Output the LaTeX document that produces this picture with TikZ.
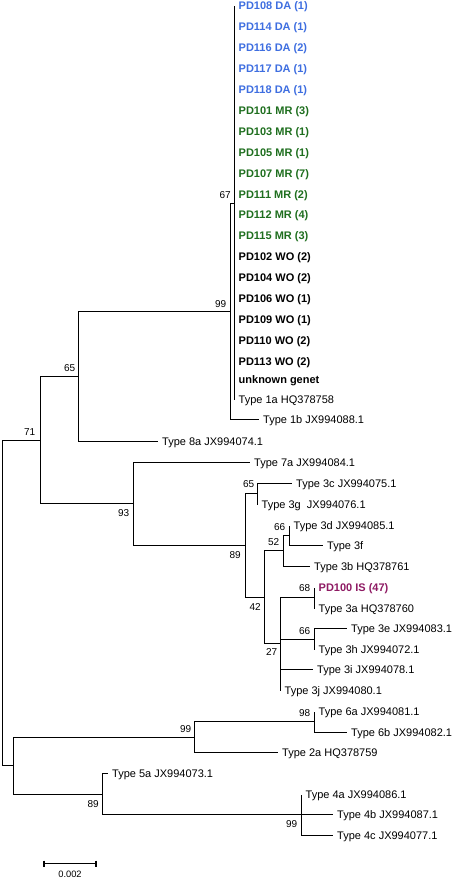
\documentclass[tikz,border=0pt]{standalone}
\usepackage{fontspec}
\setmainfont{Liberation Sans}
\definecolor{dablue}{HTML}{3E6EE0}
\definecolor{mrgreen}{HTML}{1E6E1E}
\definecolor{ispurple}{HTML}{8E1A63}
\begin{document}
\begin{tikzpicture}[x=1pt,y=-1pt,
  br/.style={line width=1.6pt},
  leaf/.style={anchor=west, inner xsep=4pt, inner ysep=0pt, text height=8.5pt, text depth=0.6pt, font=\fontsize{11}{13}\selectfont},
  pdl/.style={leaf, font=\fontsize{11}{13}\selectfont\bfseries},
  bs/.style={anchor=east, inner sep=0pt, text height=7.2pt, text depth=0pt, font=\fontsize{10}{12}\selectfont},
  sclab/.style={inner sep=0pt, font=\fontsize{9.3}{11}\selectfont}
]
\useasboundingbox (0,0) rectangle (454,879);

% internal nodes
\coordinate (root) at (2.5,602.5);
\coordinate (n71) at (40.5,440.5);
\coordinate (n65a) at (78.5,376.5);
\coordinate (n99a) at (230.5,311.5);
\coordinate (n67) at (234.5,203.5);
\coordinate (n93) at (133.5,503.5);
\coordinate (n89) at (245.5,545.5);
\coordinate (n65b) at (257.5,493.5);
\coordinate (n42) at (264.5,597.5);
\coordinate (n52) at (283.5,550.5);
\coordinate (n66a) at (289.5,535.5);
\coordinate (n27) at (280.5,643.5);
\coordinate (n68) at (314.5,597.5);
\coordinate (n66b) at (314.5,639.5);
\coordinate (nX) at (13.5,765.5);
\coordinate (n99b) at (194.5,737.5);
\coordinate (n98) at (314.5,721.5);
\coordinate (n89b) at (102.5,794.5);
\coordinate (n99c) at (301.5,814.5);

% leaf tips
\coordinate (t0) at (234.5,6);
\coordinate (t1) at (234.5,26.9);
\coordinate (t2) at (234.5,47.8);
\coordinate (t3) at (234.5,68.7);
\coordinate (t4) at (234.5,89.6);
\coordinate (t5) at (234.5,110.5);
\coordinate (t6) at (234.5,131.4);
\coordinate (t7) at (234.5,152.3);
\coordinate (t8) at (234.5,173.2);
\coordinate (t9) at (234.5,194.1);
\coordinate (t10) at (234.5,215);
\coordinate (t11) at (234.5,235.9);
\coordinate (t12) at (234.5,256.8);
\coordinate (t13) at (234.5,277.7);
\coordinate (t14) at (234.5,298.6);
\coordinate (t15) at (234.5,319.5);
\coordinate (t16) at (234.5,340.4);
\coordinate (t17) at (234.5,361.3);
\coordinate (t18) at (234.5,379.5);
\coordinate (t19) at (234.5,400);
\coordinate (t20) at (259,419.5);
\coordinate (t21) at (158,441.5);
\coordinate (t22) at (250,462.5);
\coordinate (t23) at (292,483.5);
\coordinate (t24) at (257.5,504.5);
\coordinate (t25) at (289.5,525.5);
\coordinate (t26) at (323,545.5);
\coordinate (t27) at (310,566.5);
\coordinate (t28) at (314.5,587.5);
\coordinate (t29) at (314.5,608.5);
\coordinate (t30) at (347,628.5);
\coordinate (t31) at (314.5,649.5);
\coordinate (t32) at (313,669.5);
\coordinate (t33) at (280.5,690.5);
\coordinate (t34) at (314.5,711.5);
\coordinate (t35) at (347,732.5);
\coordinate (t36) at (278,752.5);
\coordinate (t37) at (108,773.5);
\coordinate (t38) at (301.5,794.5);
\coordinate (t39) at (333,814.5);
\coordinate (t40) at (333,835.5);

% leaf labels
\node[pdl, text=dablue] (L0) at (t0) {PD108 DA (1)};
\node[pdl, text=dablue] (L1) at (t1) {PD114 DA (1)};
\node[pdl, text=dablue] (L2) at (t2) {PD116 DA (2)};
\node[pdl, text=dablue] (L3) at (t3) {PD117 DA (1)};
\node[pdl, text=dablue] (L4) at (t4) {PD118 DA (1)};
\node[pdl, text=mrgreen] (L5) at (t5) {PD101 MR (3)};
\node[pdl, text=mrgreen] (L6) at (t6) {PD103 MR (1)};
\node[pdl, text=mrgreen] (L7) at (t7) {PD105 MR (1)};
\node[pdl, text=mrgreen] (L8) at (t8) {PD107 MR (7)};
\node[pdl, text=mrgreen] (L9) at (t9) {PD111 MR (2)};
\node[pdl, text=mrgreen] (L10) at (t10) {PD112 MR (4)};
\node[pdl, text=mrgreen] (L11) at (t11) {PD115 MR (3)};
\node[pdl] (L12) at (t12) {PD102 WO (2)};
\node[pdl] (L13) at (t13) {PD104 WO (2)};
\node[pdl] (L14) at (t14) {PD106 WO (1)};
\node[pdl] (L15) at (t15) {PD109 WO (1)};
\node[pdl] (L16) at (t16) {PD110 WO (2)};
\node[pdl] (L17) at (t17) {PD113 WO (2)};
\node[pdl] (L18) at (t18) {unknown genet};
\node[leaf] (L19) at (t19) {Type 1a HQ378758};
\node[leaf] (L20) at (t20) {Type 1b JX994088.1};
\node[leaf] (L21) at (t21) {Type 8a JX994074.1};
\node[leaf] (L22) at (t22) {Type 7a JX994084.1};
\node[leaf] (L23) at (t23) {Type 3c JX994075.1};
\node[leaf] (L24) at (t24) {Type 3g\ \ JX994076.1};
\node[leaf] (L25) at (t25) {Type 3d JX994085.1};
\node[leaf] (L26) at (t26) {Type 3f};
\node[leaf] (L27) at (t27) {Type 3b HQ378761};
\node[pdl, text=ispurple] (L28) at (t28) {PD100 IS (47)};
\node[leaf] (L29) at (t29) {Type 3a HQ378760};
\node[leaf] (L30) at (t30) {Type 3e JX994083.1};
\node[leaf] (L31) at (t31) {Type 3h JX994072.1};
\node[leaf] (L32) at (t32) {Type 3i JX994078.1};
\node[leaf] (L33) at (t33) {Type 3j JX994080.1};
\node[leaf] (L34) at (t34) {Type 6a JX994081.1};
\node[leaf] (L35) at (t35) {Type 6b JX994082.1};
\node[leaf] (L36) at (t36) {Type 2a HQ378759};
\node[leaf] (L37) at (t37) {Type 5a JX994073.1};
\node[leaf] (L38) at (t38) {Type 4a JX994086.1};
\node[leaf] (L39) at (t39) {Type 4b JX994087.1};
\node[leaf] (L40) at (t40) {Type 4c JX994077.1};

% branches
\draw[br] (root) |- (n71);
\draw[br] (root) |- (nX);
\draw[br] (n71) |- (n65a);
\draw[br] (n71) |- (n93);
\draw[br] (n65a) |- (n99a);
\draw[br] (n65a) |- (t21);
\draw[br] (n99a) |- (n67);
\draw[br] (n99a) |- (t20);
\foreach \k in {0,...,19} { \draw[br] (n67) |- (t\k); }
\draw[br] (n93) |- (t22);
\draw[br] (n93) |- (n89);
\draw[br] (n89) |- (n65b);
\draw[br] (n89) |- (n42);
\draw[br] (n65b) |- (t23);
\draw[br] (n65b) |- (t24);
\draw[br] (n42) |- (n52);
\draw[br] (n42) |- (n27);
\draw[br] (n52) |- (n66a);
\draw[br] (n52) |- (t27);
\draw[br] (n66a) |- (t25);
\draw[br] (n66a) |- (t26);
\draw[br] (n27) |- (n68);
\draw[br] (n27) |- (n66b);
\draw[br] (n27) |- (t32);
\draw[br] (n27) |- (t33);
\draw[br] (n68) |- (t28);
\draw[br] (n68) |- (t29);
\draw[br] (n66b) |- (t30);
\draw[br] (n66b) |- (t31);
\draw[br] (nX) |- (n99b);
\draw[br] (nX) |- (n89b);
\draw[br] (n99b) |- (n98);
\draw[br] (n99b) |- (t36);
\draw[br] (n98) |- (t34);
\draw[br] (n98) |- (t35);
\draw[br] (n89b) |- (t37);
\draw[br] (n89b) |- (n99c);
\draw[br] (n99c) |- (t38);
\draw[br] (n99c) |- (t39);
\draw[br] (n99c) |- (t40);

% bootstrap values
\node[bs] (b67) at ([shift={(-3.5,-9)}]n67) {67};
\node[bs] (b99a) at ([shift={(-4,-7.5)}]n99a) {99};
\node[bs] (b65a) at ([shift={(-3,-8.5)}]n65a) {65};
\node[bs] (b71) at ([shift={(-5,-8.5)}]n71) {71};
\node[bs] (b93) at ([shift={(-4,9.5)}]n93) {93};
\node[bs] (b89) at ([shift={(-4.5,9.5)}]n89) {89};
\node[bs] (b65b) at ([shift={(-3,-9.5)}]n65b) {65};
\node[bs] (b66a) at ([shift={(-4,-9)}]n66a) {66};
\node[bs] (b52) at ([shift={(-4,-8.7)}]n52) {52};
\node[bs] (b42) at ([shift={(-3.5,9.6)}]n42) {42};
\node[bs] (b68) at ([shift={(-4,-9.4)}]n68) {68};
\node[bs] (b66b) at ([shift={(-4,-9)}]n66b) {66};
\node[bs] (b27) at ([shift={(-3,8.7)}]n27) {27};
\node[bs] (b98) at ([shift={(-4,-9)}]n98) {98};
\node[bs] (b99b) at ([shift={(-3,-8.4)}]n99b) {99};
\node[bs] (b89b) at ([shift={(-3.5,9.5)}]n89b) {89};
\node[bs] (b99c) at ([shift={(-4,9.8)}]n99c) {99};

% scale bar
\coordinate (sa) at (44,863.5);
\coordinate (sb) at (96,863.5);
\draw[br] (sa) -- (sb);
\draw[br] ([yshift=3pt]sa) -- ([yshift=-3pt]sa);
\draw[br] ([yshift=3pt]sb) -- ([yshift=-3pt]sb);
\node[sclab] (slab) at (70,874.5) {0.002};
\end{tikzpicture}
\end{document}
